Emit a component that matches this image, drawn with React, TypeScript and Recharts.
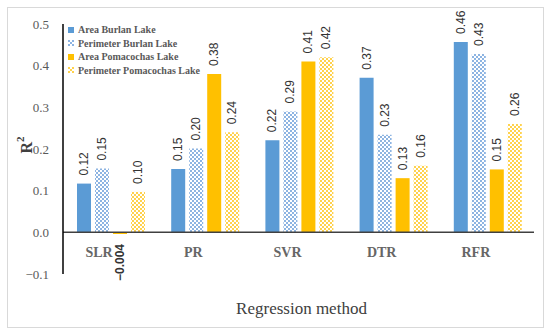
import React from "react";
import {
  BarChart,
  Bar,
  XAxis,
  YAxis,
  ReferenceLine,
  LabelList,
  Label,
} from "recharts";

const methods = ["SLR", "PR", "SVR", "DTR", "RFR"];
const areaBurlan = [0.117, 0.152, 0.221, 0.371, 0.457];
const perimeterBurlan = [0.153, 0.201, 0.29, 0.234, 0.428];
const areaPomacochas = [-0.004, 0.38, 0.41, 0.13, 0.151];
const perimeterPomacochas = [0.097, 0.24, 0.42, 0.16, 0.26];
const yTicks = [-0.1, 0, 0.1, 0.2, 0.3, 0.4, 0.5];

const series = [
  { key: "areaBurlan", name: "Area Burlan Lake", fill: "#5B9BD5" },
  { key: "perimeterBurlan", name: "Perimeter Burlan Lake", fill: "url(#blueCheck)" },
  { key: "areaPomacochas", name: "Area Pomacochas Lake", fill: "#FFC000" },
  { key: "perimeterPomacochas", name: "Perimeter Pomacochas Lake", fill: "url(#yellowCheck)" },
];

const data = methods.map((m, i) => ({
  method: m,
  areaBurlan: areaBurlan[i],
  perimeterBurlan: perimeterBurlan[i],
  areaPomacochas: areaPomacochas[i],
  perimeterPomacochas: perimeterPomacochas[i],
}));

const serif = "'Liberation Serif', 'DejaVu Serif', serif";
const sans = "'Liberation Sans', Arial, sans-serif";

const fmt = (v: number) =>
  v < 0 ? "\u2212" + Math.abs(v).toFixed(3) : v.toFixed(2);

const BarLabel = (props: any) => {
  const { x, y, width, height, value } = props;
  const cx = x + width / 2;
  const top = Math.min(y, y + height);
  const bottom = Math.max(y, y + height);
  const neg = value < 0;
  const ty = neg ? bottom + 10 : top - 8;
  return (
    <text
      transform={`translate(${cx},${ty}) rotate(-90)`}
      textAnchor={neg ? "end" : "start"}
      dominantBaseline="central"
      fontFamily={sans}
      fontSize={12}
      fontWeight={neg ? "bold" : "normal"}
      fill="#333333"
    >
      {fmt(value)}
    </text>
  );
};

const CategoryTick = (props: any) => {
  const { x, y, payload } = props;
  return (
    <text
      x={x - 11}
      y={y - 22}
      textAnchor="middle"
      dominantBaseline="central"
      fontFamily={serif}
      fontSize={14}
      fontWeight="bold"
      fill="#666666"
    >
      {payload.value}
    </text>
  );
};

const LegendBox = () => (
  <div
    style={{
      position: "absolute",
      left: 68,
      top: 23,
      fontFamily: serif,
      fontSize: 10,
      fontWeight: "bold",
      color: "#595959",
      lineHeight: "13.5px",
    }}
  >
    {series.map((s) => (
      <div key={s.key} style={{ display: "flex", alignItems: "center", height: 13.5 }}>
        <svg width={6} height={6} style={{ marginRight: 4 }}>
          <rect width={6} height={6} fill={s.fill} />
        </svg>
        <span>{s.name}</span>
      </div>
    ))}
  </div>
);

const RLabel = (props: any) => {
  const { viewBox } = props;
  const cx = viewBox.x + viewBox.width - 37;
  const cy = viewBox.y + viewBox.height / 2 - 4;
  return (
    <text
      transform={`translate(${cx},${cy}) rotate(-90)`}
      textAnchor="middle"
      dominantBaseline="central"
      fontFamily={serif}
      fontSize={16}
      fontWeight="bold"
      fill="#404040"
    >
      R<tspan dy={-6} fontSize={11}>2</tspan>
    </text>
  );
};

const XTitle = (props: any) => {
  const { viewBox } = props;
  return (
    <text
      x={viewBox.x + viewBox.width / 2 + 3}
      y={viewBox.y + 34}
      textAnchor="middle"
      dominantBaseline="central"
      fontFamily={serif}
      fontSize={17}
      fill="#404040"
    >
      Regression method
    </text>
  );
};

export default function App() {
  return (
    <div
      style={{
        position: "absolute",
        left: 0,
        top: 0,
        width: 550,
        height: 335,
        background: "#fff",
      }}
    >
      <div
        style={{
          position: "absolute",
          left: 7,
          top: 7,
          width: 535,
          height: 319,
          border: "1px solid #d9d9d9",
        }}
      />
      <div style={{ position: "absolute", left: 0, top: 0 }}>
        <BarChart
          width={550}
          height={335}
          data={data}
          margin={{ top: 24, right: 16, bottom: 31, left: 23 }}
          barCategoryGap={14}
          barGap={4}
        >
          <defs>
            <pattern id="blueCheck" width={4} height={4} patternUnits="userSpaceOnUse">
              <rect width={4} height={4} fill="#ffffff" />
              <rect width={2} height={2} fill="#8DB4E2" />
              <rect x={2} y={2} width={2} height={2} fill="#8DB4E2" />
            </pattern>
            <pattern id="yellowCheck" width={4} height={4} patternUnits="userSpaceOnUse">
              <rect width={4} height={4} fill="#ffffff" />
              <rect width={2} height={2} fill="#FFD24D" />
              <rect x={2} y={2} width={2} height={2} fill="#FFD24D" />
            </pattern>
          </defs>
          <XAxis
            dataKey="method"
            height={30}
            axisLine={false}
            tickLine={false}
            tickSize={0}
            tickMargin={0}
            tick={<CategoryTick />}
            interval={0}
          >
            <Label content={<XTitle />} />
          </XAxis>
          <YAxis
            width={40}
            domain={[-0.1, 0.5]}
            ticks={yTicks}
            tickFormatter={(v: number) => (v < 0 ? "\u2212" + Math.abs(v).toFixed(1) : v.toFixed(1))}
            axisLine={{ stroke: "#000", strokeWidth: 1.5 }}
            tickLine={false}
            tickSize={0}
            tickMargin={14}
            tick={{ fontFamily: serif, fontSize: 13, fill: "#595959" }}
            allowDataOverflow
          >
            <Label content={<RLabel />} />
          </YAxis>
          <ReferenceLine y={0} stroke="#404040" strokeWidth={1.5} />
          {series.map((s) => (
            <Bar
              key={s.key}
              dataKey={s.key}
              name={s.name}
              fill={s.fill}
              isAnimationActive={false}
            >
              <LabelList dataKey={s.key} content={<BarLabel />} />
            </Bar>
          ))}
        </BarChart>
      </div>
      <LegendBox />
    </div>
  );
}
